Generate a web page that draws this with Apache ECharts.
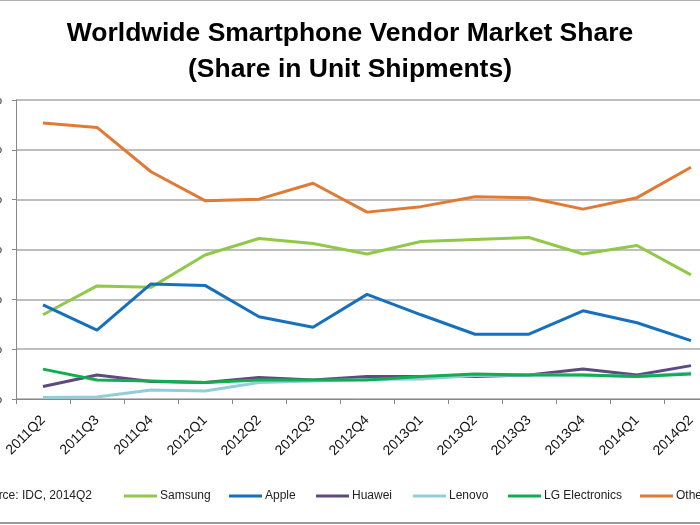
<!DOCTYPE html>
<html><head><meta charset="utf-8">
<script src="https://cdn.jsdelivr.net/npm/echarts@6/dist/echarts.min.js"></script>
<style>html,body{margin:0;padding:0;background:#fff}#c{width:700px;height:525px}</style>
</head><body><div id="c"></div>
<script>
const categories = ['2011Q2','2011Q3','2011Q4','2012Q1','2012Q2','2012Q3','2012Q4','2013Q1','2013Q2','2013Q3','2013Q4','2014Q1','2014Q2'];
const samsung = [16.9,22.7,22.4,28.9,32.2,31.2,29.1,31.6,32.0,32.4,29.1,30.8,24.9];
const apple   = [18.9,13.8,23.1,22.8,16.5,14.4,21.0,16.9,13.0,13.0,17.7,15.3,11.7];
const huawei  = [2.5,4.8,3.5,3.3,4.3,3.8,4.5,4.5,4.5,4.8,6.0,4.8,6.7];
const lenovo  = [0.3,0.4,1.8,1.6,3.3,3.6,3.9,4.0,4.7,4.8,4.8,4.5,5.2];
const lg      = [6.0,3.8,3.6,3.3,3.8,3.8,3.8,4.5,5.0,4.8,4.8,4.5,5.0];
const others  = [55.4,54.5,45.6,39.8,40.1,43.3,37.5,38.6,40.6,40.4,38.1,40.4,46.5];
const yTicks = [0,10,20,30,40,50,60];

const names = ['Samsung','Apple','Huawei','Lenovo','LG Electronics','Others'];
const colors = ['#92C84A','#1670BE','#5E4A7E','#93CDDC','#10AE50','#E07A35'];
const values = [samsung, apple, huawei, lenovo, lg, others];
const legendLeft = [124, 229, 316, 413, 508, 640];

const chart = echarts.init(document.getElementById('c'));
const FONT = 'Liberation Sans';
chart.setOption({
  animation: false,
  backgroundColor: '#fff',
  title: {
    text: 'Worldwide Smartphone Vendor Market Share\n(Share in Unit Shipments)',
    left: 'center', top: 11,
    textStyle: { fontFamily: FONT, fontWeight: 'bold', fontSize: 26.5, lineHeight: 36, color: '#000' }
  },
  legend: names.map((n, i) => ({
    data: [n], left: legendLeft[i], top: 490,
    itemWidth: 33, itemHeight: 3, itemGap: 0, icon: 'rect',
    padding: 0,
    textStyle: { fontFamily: FONT, fontSize: 12, color: '#222', padding: [0, 0, 0, -2] }
  })),
  graphic: [
    { type: 'text', right: 700 - 92, top: 490, style: { text: 'Source: IDC, 2014Q2', font: '12px "Liberation Sans"', fill: '#222', textAlign: 'right' } },
    { type: 'rect', left: 0, top: 522, shape: { width: 700, height: 2 }, style: { fill: '#9a9a9a' } },
    { type: 'rect', left: 0, top: 0, shape: { width: 700, height: 1 }, style: { fill: '#b0b0b0' } }
  ],
  grid: { left: 16, top: 100, width: 702, height: 299, containLabel: false, outerBoundsMode: 'none' },
  xAxis: {
    type: 'category', data: categories, boundaryGap: true,
    axisLine: { lineStyle: { color: '#888', width: 1 } },
    axisTick: { show: true, length: 5, lineStyle: { color: '#888' } },
    axisLabel: { interval: 0, rotate: 45, margin: 19, fontFamily: FONT, fontSize: 14, color: '#111' }
  },
  yAxis: {
    type: 'value', min: yTicks[0], max: yTicks[yTicks.length - 1], interval: 10,
    axisLine: { show: true, lineStyle: { color: '#888' } },
    axisTick: { show: true, length: 4, lineStyle: { color: '#888' } },
    axisLabel: { margin: 14, formatter: v => v + '%', fontFamily: FONT, fontSize: 13, color: '#111' },
    splitLine: { lineStyle: { color: '#A8A8A8', width: 1.5 } }
  },
  series: names.map((n, i) => ({
    name: n, type: 'line', data: values[i], symbol: 'none',
    color: colors[i], lineStyle: { width: 3, color: colors[i] }
  }))
});
</script></body></html>
